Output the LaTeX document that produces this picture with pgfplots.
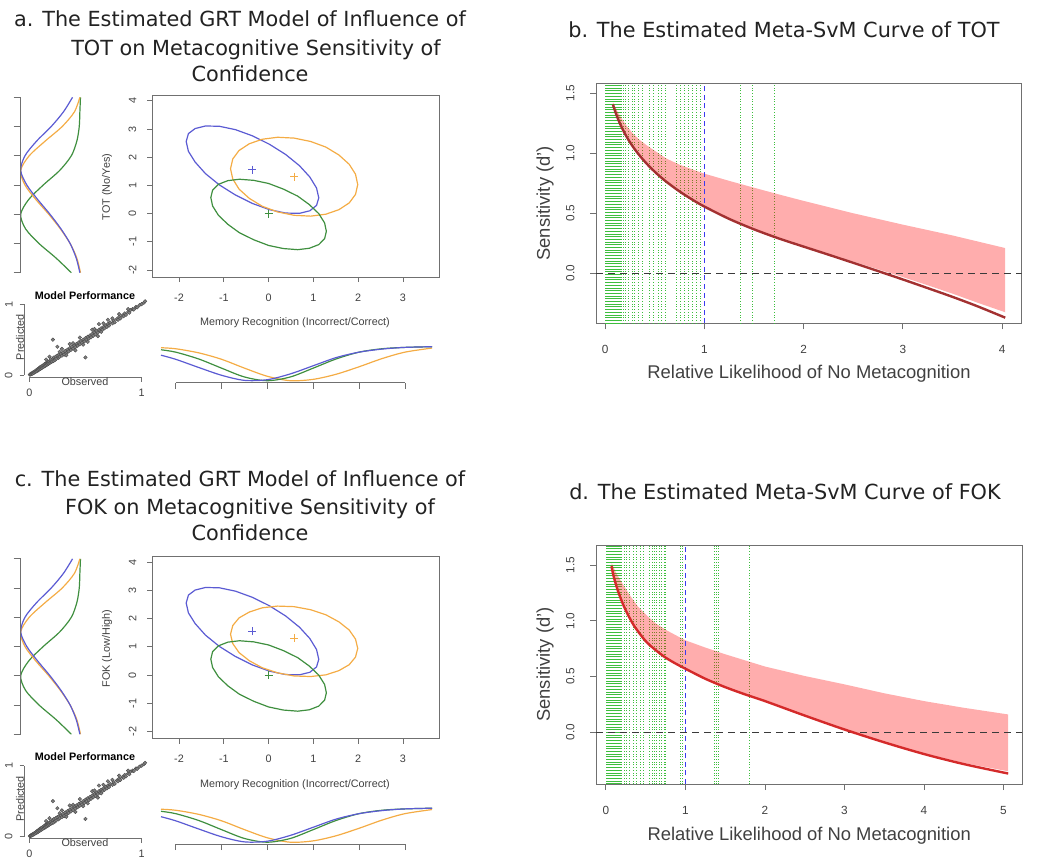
\documentclass[border=0pt]{standalone}
\usepackage{pgfplots}
\pgfplotsset{compat=1.18}
\usepackage{pgfplotstable}
\usepackage{fontspec}
\setmainfont{Liberation Sans}
\newfontfamily\titlefont{DejaVu Sans}

\definecolor{grtblue}{HTML}{5B5BD3}
\definecolor{grtorange}{HTML}{F4AC45}
\definecolor{grtgreen}{HTML}{3F8F3F}
\definecolor{framegray}{HTML}{707070}
\definecolor{ticktext}{HTML}{404040}
\definecolor{titletext}{HTML}{222222}
\definecolor{svmredb}{HTML}{A33131}
\definecolor{svmredd}{HTML}{D42A2A}
\definecolor{cutgreen}{HTML}{3DBE3D}
\definecolor{refblue}{HTML}{3B3BF0}
\definecolor{zerogray}{HTML}{3A3A3A}

\newcommand{\titlesize}{\titlefont\fontsize{10.4}{12}\selectfont}
\newcommand{\grtsize}{\fontsize{5.4}{6.5}\selectfont}
\newcommand{\svmticksize}{\fontsize{5.9}{7}\selectfont}
\newcommand{\svmlabelsize}{\fontsize{9.2}{11}\selectfont}

\pgfplotsset{
  rbox/.style={scale only axis, anchor=south west,
    axis line style={framegray, line width=0.45pt},
    tick style={framegray, line width=0.45pt},
    tick align=outside, tick pos=left,
    /pgf/number format/assume math mode=true},
  bare/.style={scale only axis, anchor=south west, axis lines=none, clip=false},
  rule/.style={scale only axis, anchor=south west, tick align=outside,
    axis line style={framegray, line width=0.45pt},
    tick style={framegray, line width=0.45pt},
    xticklabels={}, yticklabels={}},
  cutline/.style={cutgreen, densely dotted, line width=0.35pt},
}

% GRT panel: #1 vertical offset, #2 y label, #3 orange ellipse table
\newcommand{\grtpanel}[3]{%
  % main ellipse plot
  \begin{axis}[rbox, at={(76pt,-138.5pt-#1)}, width=143.5pt, height=91pt,
      xmin=-2.603, xmax=3.804, ymin=-2.25, ymax=4.21,
      xtick={-2,...,3}, ytick={-2,...,4}, major tick length=2.5pt,
      ticklabel style={font=\grtsize, text=ticktext},
      xticklabel shift=2.4pt, yticklabel shift=1.8pt,
      yticklabel style={rotate=90, anchor=south}]
    \addplot[grtblue, line width=0.6pt] table {\ellblue};
    \addplot[grtorange, line width=0.6pt] table {#3};
    \addplot[grtgreen, line width=0.6pt] table {\ellgreen};
    \addplot[only marks, mark=+, mark size=2pt, grtblue] coordinates {(-0.36,1.56)};
    \addplot[only marks, mark=+, mark size=2pt, grtorange] coordinates {(0.57,1.31)};
    \addplot[only marks, mark=+, mark size=2pt, grtgreen] coordinates {(0,0)};
  \end{axis}
  \node[rotate=90, font=\grtsize, text=ticktext] at (53.5pt,-93.5pt-#1) {#2};
  \node[font=\grtsize, text=ticktext] at (147.5pt,-161.5pt-#1) {Memory Recognition (Incorrect/Correct)};
  % marginal of the y dimension
  \begin{axis}[bare, at={(10.35pt,-136.35pt-#1)}, width=30.5pt, height=87.7pt,
      xmin=0, xmax=1, ymin=-2, ymax=4, x dir=reverse]
    \addplot[grtgreen, smooth, line width=0.6pt] table[x=g, y=v] {\margy};
    \addplot[grtorange, smooth, line width=0.6pt] table[x=o, y=v] {\margy};
    \addplot[grtblue, smooth, line width=0.6pt] table[x=b, y=v] {\margy};
  \end{axis}
  \begin{axis}[rule, at={(10.35pt,-136.35pt-#1)}, width=30.5pt, height=87.7pt,
      xmin=0, xmax=1, ymin=-2, ymax=4, axis y line*=left, axis x line=none,
      ytick={-2,...,4}, major tick length=3.5pt]
    \addplot[draw=none] coordinates {(0.5,0)};
  \end{axis}
  % marginal of the x dimension
  \begin{axis}[bare, at={(80.5pt,-190.35pt-#1)}, width=135.5pt, height=17pt,
      xmin=-2.32, xmax=3.59, ymin=0, ymax=1, y dir=reverse]
    \addplot[grtorange, smooth, line width=0.6pt] table[x=x, y=o] {\margx};
    \addplot[grtgreen, smooth, line width=0.6pt] table[x=x, y=g] {\margx};
    \addplot[grtblue, smooth, line width=0.6pt] table[x=x, y=b] {\margx};
  \end{axis}
  \begin{axis}[rule, at={(87.85pt,-191.35pt-#1)}, width=114.65pt, height=1pt,
      xmin=-2, xmax=3, ymin=0, ymax=1, axis x line*=bottom, axis y line=none,
      xtick={-2,...,3}, major tick length=3pt]
    \addplot[draw=none] coordinates {(0,0.5)};
  \end{axis}
  % model performance
  \begin{axis}[scale only axis, anchor=south west, at={(12pt,-188.65pt-#1)},
      width=62.2pt, height=38.7pt,
      xmin=-0.047, xmax=1.06, ymin=-0.03, ymax=1.06,
      axis lines*=left, tick align=outside, major tick length=2.2pt,
      axis line style={framegray, line width=0.45pt},
      tick style={framegray, line width=0.45pt},
      x axis line style={shorten <=2.6pt, shorten >=3.4pt},
      y axis line style={shorten <=1.1pt, shorten >=2.1pt},
      xtick={0,1}, ytick={0,1},
      /pgf/number format/assume math mode=true,
      ticklabel style={font=\grtsize, text=ticktext},
      yticklabel style={rotate=90, anchor=south}]
    \addplot[only marks, mark=*, mark size=0.9pt,
      mark options={fill=black!50, draw=black!70, line width=0.2pt}] table {\scatterdata};
  \end{axis}
  \node[anchor=base, font=\grtsize\bfseries, text=black] at (42.5pt,-149.65pt-#1) {Model Performance};
  \node[rotate=90, font=\grtsize, text=ticktext] at (10pt,-168.65pt-#1) {Predicted};
  \node[font=\grtsize, text=ticktext] at (42.5pt,-190.75pt-#1) {Observed};
}

\begin{document}

\pgfplotstableread{
x y
1.12 0.56
1.07 0.91
0.92 1.30
0.69 1.70
0.38 2.10
0.02 2.46
-0.36 2.76
-0.74 2.98
-1.10 3.10
-1.41 3.11
-1.64 3.02
-1.79 2.84
-1.84 2.56
-1.79 2.21
-1.64 1.83
-1.41 1.42
-1.10 1.02
-0.74 0.66
-0.36 0.36
0.02 0.14
0.38 0.02
0.69 0.01
0.92 0.10
1.07 0.29
1.12 0.56
}\ellblue

\pgfplotstableread{
x y
1.99 1.03
1.94 1.40
1.80 1.75
1.57 2.08
1.28 2.36
0.94 2.56
0.57 2.68
0.20 2.71
-0.14 2.64
-0.43 2.48
-0.66 2.24
-0.80 1.94
-0.85 1.59
-0.80 1.23
-0.66 0.87
-0.43 0.54
-0.14 0.26
0.20 0.06
0.57 -0.06
0.94 -0.09
1.28 -0.02
1.57 0.14
1.80 0.38
1.94 0.68
1.99 1.03
}\ellorangeA

\pgfplotstableread{
x y
1.99 0.95
1.94 1.28
1.80 1.60
1.57 1.89
1.28 2.14
0.94 2.32
0.57 2.43
0.20 2.45
-0.14 2.39
-0.43 2.24
-0.66 2.03
-0.80 1.76
-0.85 1.45
-0.80 1.12
-0.66 0.80
-0.43 0.51
-0.14 0.26
0.20 0.08
0.57 -0.03
0.94 -0.05
1.28 0.01
1.57 0.16
1.80 0.37
1.94 0.64
1.99 0.95
}\ellorangeC

\pgfplotstableread{
x y
1.29 -0.63
1.25 -0.33
1.12 0.00
0.91 0.32
0.65 0.62
0.33 0.87
0.00 1.07
-0.33 1.18
-0.65 1.22
-0.91 1.17
-1.12 1.04
-1.25 0.83
-1.29 0.57
-1.25 0.27
-1.12 -0.06
-0.91 -0.38
-0.65 -0.68
-0.33 -0.93
0.00 -1.13
0.33 -1.24
0.65 -1.28
0.91 -1.23
1.12 -1.10
1.25 -0.89
1.29 -0.63
}\ellgreen

\pgfplotstableread{
v b o g
-2 0.03 0.02 0.17
-1.5 0.09 0.08 0.42
-1 0.19 0.19 0.70
-0.5 0.34 0.35 0.92
0 0.52 0.54 1.00
0.5 0.72 0.75 0.87
1 0.90 0.93 0.63
1.5 1.00 1.00 0.36
2 0.93 0.86 0.17
2.5 0.74 0.60 0.08
3 0.50 0.32 0.04
3.5 0.30 0.12 0.03
4 0.15 0.03 0.02
}\margy

\pgfplotstableread{
x b o g
-2.32 0.25 0.03 0.09
-2 0.37 0.06 0.16
-1.5 0.61 0.18 0.36
-1 0.84 0.37 0.63
-0.5 0.99 0.63 0.89
0 0.97 0.87 1.00
0.5 0.80 1.00 0.89
1 0.56 0.96 0.63
1.5 0.32 0.81 0.36
2 0.16 0.59 0.16
2.5 0.07 0.35 0.06
3 0.02 0.16 0.02
3.59 0.00 0.04 0.00
}\margx

\pgfplotstableread{
x y
0.005 0.008
0.01 0.012
0.015 0.02
0.02 0.015
0.025 0.03
0.03 0.022
0.035 0.04
0.04 0.032
0.045 0.05
0.05 0.042
0.055 0.06
0.06 0.05
0.065 0.075
0.07 0.06
0.075 0.085
0.08 0.07
0.085 0.095
0.09 0.082
0.095 0.11
0.10 0.09
0.105 0.12
0.11 0.10
0.115 0.13
0.12 0.11
0.125 0.14
0.13 0.12
0.135 0.155
0.14 0.13
0.145 0.165
0.15 0.14
0.155 0.17
0.16 0.15
0.165 0.185
0.17 0.16
0.175 0.19
0.18 0.17
0.185 0.205
0.19 0.18
0.195 0.215
0.20 0.19
0.21 0.235
0.215 0.20
0.22 0.25
0.23 0.215
0.235 0.26
0.24 0.23
0.25 0.275
0.26 0.245
0.265 0.29
0.27 0.26
0.28 0.30
0.29 0.275
0.30 0.32
0.31 0.29
0.32 0.34
0.33 0.31
0.34 0.36
0.35 0.335
0.36 0.38
0.37 0.355
0.38 0.40
0.39 0.375
0.40 0.42
0.41 0.395
0.42 0.44
0.43 0.415
0.44 0.46
0.45 0.435
0.46 0.48
0.47 0.455
0.48 0.50
0.49 0.475
0.50 0.52
0.51 0.50
0.52 0.54
0.53 0.515
0.54 0.56
0.55 0.535
0.56 0.58
0.57 0.555
0.58 0.60
0.59 0.575
0.60 0.62
0.61 0.60
0.62 0.64
0.63 0.62
0.64 0.66
0.65 0.64
0.66 0.68
0.67 0.66
0.68 0.70
0.69 0.68
0.70 0.72
0.71 0.70
0.72 0.74
0.74 0.73
0.75 0.77
0.76 0.745
0.78 0.79
0.79 0.78
0.80 0.82
0.81 0.80
0.83 0.84
0.84 0.83
0.85 0.87
0.86 0.85
0.88 0.89
0.89 0.88
0.90 0.915
0.92 0.93
0.93 0.925
0.95 0.96
0.96 0.955
0.98 0.985
1.00 1.00
1.02 1.02
1.03 1.04
0.21 0.50
0.50 0.25
0.62 0.72
0.64 0.61
0.25 0.40
0.29 0.37
0.27 0.33
0.56 0.64
0.45 0.53
0.36 0.44
0.58 0.65
0.70 0.78
0.18 0.26
0.41 0.35
0.61 0.55
0.80 0.86
0.33 0.28
0.15 0.22
0.48 0.43
0.66 0.73
0.74 0.80
0.88 0.93
0.52 0.47
0.39 0.45
}\scatterdata

\pgfplotstableread{
x y
0.08 1.405
0.10 1.354
0.13 1.287
0.17 1.212
0.22 1.134
0.28 1.056
0.35 0.979
0.43 0.904
0.52 0.831
0.62 0.761
0.75 0.682
0.88 0.613
1.00 0.556
1.25 0.453
1.50 0.366
1.75 0.290
2.00 0.222
2.25 0.155
2.50 0.087
2.75 0.018
3.00 -0.052
3.25 -0.124
3.50 -0.197
3.75 -0.275
4.03 -0.37
}\redB

\pgfplotstableread{
x y
0.08 1.425
0.10 1.39
0.13 1.34
0.17 1.285
0.22 1.225
0.28 1.165
0.35 1.11
0.43 1.06
0.52 1.01
0.62 0.955
0.75 0.905
0.88 0.865
1.00 0.83
1.25 0.77
1.50 0.713
1.75 0.657
2.00 0.603
2.50 0.50
3.00 0.405
3.50 0.315
4.03 0.21
4.03 -0.325
3.75 -0.245
3.50 -0.17
3.25 -0.10
3.00 -0.032
2.75 0.033
2.50 0.098
2.25 0.162
2.00 0.225
1.75 0.290
1.50 0.366
1.25 0.453
1.00 0.556
0.88 0.613
0.75 0.682
0.62 0.761
0.52 0.831
0.43 0.904
0.35 0.979
0.28 1.056
0.22 1.134
0.17 1.212
0.13 1.287
0.10 1.354
0.08 1.405
}\bandB

\pgfplotstableread{
x y
0.07 1.49
0.09 1.42
0.12 1.34
0.16 1.25
0.22 1.14
0.28 1.05
0.35 0.96
0.43 0.88
0.51 0.81
0.62 0.74
0.75 0.67
0.88 0.615
1.00 0.57
1.25 0.48
1.50 0.405
1.75 0.34
2.00 0.28
2.50 0.15
3.00 0.025
3.50 -0.09
4.00 -0.195
4.50 -0.285
5.06 -0.37
}\redD

\pgfplotstableread{
x y
0.07 1.52
0.09 1.49
0.12 1.44
0.16 1.39
0.22 1.32
0.30 1.23
0.40 1.13
0.51 1.05
0.62 0.98
0.75 0.92
0.88 0.87
1.00 0.825
1.25 0.76
1.50 0.70
2.00 0.59
2.50 0.505
3.00 0.43
3.50 0.35
4.00 0.28
4.50 0.22
5.06 0.16
5.06 -0.35
4.50 -0.275
4.00 -0.19
3.50 -0.09
3.00 0.025
2.50 0.15
2.00 0.28
1.75 0.34
1.50 0.405
1.25 0.48
1.00 0.57
0.88 0.615
0.75 0.67
0.62 0.74
0.51 0.81
0.43 0.88
0.35 0.96
0.28 1.05
0.22 1.14
0.16 1.25
0.12 1.34
0.09 1.42
0.07 1.49
}\bandD

\begin{tikzpicture}
\useasboundingbox (0,0) rectangle (527.5pt,-428.5pt);

% ---- titles
\node[anchor=base, text=titletext] at (120pt,-13.35pt) {\titlesize a. The Estimated GRT Model of Influence of};
\node[anchor=base, text=titletext] at (128pt,-27.5pt) {\titlesize TOT on Metacognitive Sensitivity of};
\node[anchor=base, text=titletext] at (125pt,-40.85pt) {\titlesize Confidence};
\node[anchor=base, text=titletext] at (120pt,-243.25pt) {\titlesize c. The Estimated GRT Model of Influence of};
\node[anchor=base, text=titletext] at (125pt,-257pt) {\titlesize FOK on Metacognitive Sensitivity of};
\node[anchor=base, text=titletext] at (125pt,-270pt) {\titlesize Confidence};
\node[anchor=base, text=titletext] at (392pt,-18.65pt) {\titlesize b. The Estimated Meta-SvM Curve of TOT};
\node[anchor=base, text=titletext] at (392.5pt,-249.65pt) {\titlesize d. The Estimated Meta-SvM Curve of FOK};

% ---- panels a and c
\grtpanel{0pt}{TOT (No/Yes)}{\ellorangeA}
\grtpanel{230.75pt}{FOK (Low/High)}{\ellorangeC}

% ---- panel b
\begin{axis}[rbox, at={(298pt,-161.65pt)}, width=212.85pt, height=120pt,
    xmin=-0.091, xmax=4.196, ymin=-0.417, ymax=1.583,
    xtick={0,...,4}, ytick={0,0.5,1,1.5}, yticklabels={0.0,0.5,1.0,1.5},
    major tick length=3pt,
    ticklabel style={font=\svmticksize, text=ticktext},
    xticklabel shift=4.6pt, yticklabel shift=4.2pt,
    yticklabel style={rotate=90, anchor=south}]
  \pgfplotsinvokeforeach{0,0.01,0.02,0.03,0.04,0.05,0.06,0.07,0.08,0.09,0.10,0.11,0.12,0.13,0.14,0.15,0.165,0.18,0.20,0.235,0.27,0.30,0.335,0.38,0.45,0.49,0.54,0.57,0.61,0.72,0.755,0.80,0.84,0.88,0.92,0.96,1.36,1.48,1.70}{
    \addplot[cutline] coordinates {(#1,-0.417) (#1,1.583)};
  }
  \addplot[fill=red, fill opacity=0.32, draw=none] table {\bandB};
  \addplot[refblue, dash pattern=on 2.5pt off 1.8pt, line width=0.8pt] coordinates {(1,-0.417) (1,1.583)};
  \addplot[zerogray, dash pattern=on 3.5pt off 2.5pt, line width=0.7pt] coordinates {(-0.091,0) (4.196,0)};
  \addplot[svmredb, line width=1.2pt, smooth] table {\redB};
\end{axis}
\node[font=\svmlabelsize, text=ticktext] at (404.5pt,-186.65pt) {Relative Likelihood of No Metacognition};
\node[rotate=90, font=\svmlabelsize, text=ticktext] at (272.5pt,-101.65pt) {Sensitivity (d')};

% ---- panel d
\begin{axis}[rbox, at={(298pt,-392pt)}, width=213.15pt, height=119.5pt,
    xmin=-0.125, xmax=5.237, ymin=-0.464, ymax=1.68,
    xtick={0,...,5}, ytick={0,0.5,1,1.5}, yticklabels={0.0,0.5,1.0,1.5},
    major tick length=3pt,
    ticklabel style={font=\svmticksize, text=ticktext},
    xticklabel shift=4.6pt, yticklabel shift=4.2pt,
    yticklabel style={rotate=90, anchor=south}]
  \pgfplotsinvokeforeach{0,0.01,0.02,0.03,0.04,0.05,0.06,0.07,0.08,0.09,0.10,0.11,0.12,0.13,0.14,0.15,0.16,0.17,0.18,0.19,0.20,0.23,0.26,0.30,0.34,0.38,0.43,0.47,0.55,0.58,0.61,0.64,0.67,0.70,0.73,0.75,0.93,0.96,1.36,1.39,1.42,1.80}{
    \addplot[cutline] coordinates {(#1,-0.464) (#1,1.68)};
  }
  \addplot[fill=red, fill opacity=0.32, draw=none] table {\bandD};
  \addplot[refblue, dash pattern=on 2.5pt off 1.8pt, line width=0.8pt] coordinates {(1,-0.464) (1,1.68)};
  \addplot[zerogray, dash pattern=on 3.5pt off 2.5pt, line width=0.7pt] coordinates {(-0.125,0) (5.237,0)};
  \addplot[svmredd, line width=1.2pt, smooth] table {\redD};
\end{axis}
\node[font=\svmlabelsize, text=ticktext] at (404.6pt,-418pt) {Relative Likelihood of No Metacognition};
\node[rotate=90, font=\svmlabelsize, text=ticktext] at (272.5pt,-332.25pt) {Sensitivity (d')};
\end{tikzpicture}
\end{document}
